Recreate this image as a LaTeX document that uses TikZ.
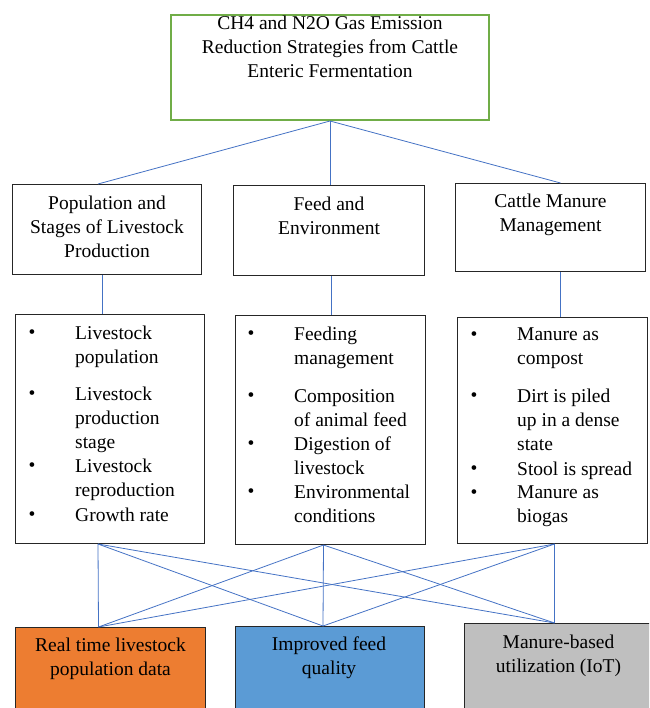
\documentclass[tikz,border=0pt]{standalone}
\usepackage{fontspec}
\setmainfont{Liberation Serif}
\usepackage{xcolor}
\usetikzlibrary{calc}
\definecolor{topgreen}{HTML}{70AD47}
\definecolor{linkblue}{HTML}{4472C4}
\definecolor{orangefill}{HTML}{ED7D31}
\definecolor{bluefill}{HTML}{5B9BD5}
\definecolor{grayfill}{HTML}{BFBFBF}
\newcommand{\boxfont}{\fontsize{19.5}{24}\selectfont}
\tikzset{box/.style={draw=black!85, line width=1pt, inner sep=0pt, anchor=north west},
	headtext/.style={anchor=north, yshift=12pt, align=center, inner sep=0pt, font=\boxfont},
	itemtext/.style={anchor=north west, yshift=12pt, align=left, inner sep=0pt, font=\boxfont},
	dot/.style={anchor=base, inner sep=0pt, font=\boxfont},
	link/.style={draw=linkblue, line width=0.8pt}}
% bullet + text, #2 = x of the bullet, #3 = baseline of the first line
\newcommand{\listitem}[4]{\node[dot] (#1-dot) at (#2,#3) {\textbullet};
	\node[itemtext] (#1) at (#2+43,#3) {#4}}

\begin{document}
\begin{tikzpicture}[x=1pt, y=-1pt]
	\clip (0,0) rectangle (649,708);
	
	\node (goal) [box, draw=topgreen, line width=2pt, minimum width=318, minimum height=105] at (170,14) {};
	\node (goal-t) [headtext] at ($(goal.north)+(0,14)$) {CH4 and N2O Gas Emission\\Reduction Strategies from Cattle\\Enteric Fermentation};
	
	\node (pop) [box, minimum width=189, minimum height=90] at (12,184) {};
	\node (feed) [box, minimum width=191, minimum height=90] at (233,185) {};
	\node (manure) [box, minimum width=190, minimum height=88] at (455,183) {};
	\node (pop-t) [headtext] at ($(pop.north)+(0,24)$) {Population and\\Stages of Livestock\\Production};
	\node (feed-t) [headtext] at ($(feed.north)+(0,24)$) {Feed and\\Environment};
	\node (manure-t) [headtext] at ($(manure.north)+(0,23)$) {Cattle Manure\\Management};
	
	\node (poplist) [box, minimum width=189, minimum height=229] at (15,314) {};
	\node (feedlist) [box, minimum width=190, minimum height=229] at (235,315) {};
	\node (manurelist) [box, minimum width=190, minimum height=226] at (457,317) {};
	
	\listitem{pop1}{32}{338}{Livestock\\population};
	\listitem{pop2}{32}{399}{Livestock\\production\\stage};
	\listitem{pop3}{32}{471}{Livestock\\reproduction};
	\listitem{pop4}{32}{520}{Growth rate};
	\listitem{feed1}{251}{339}{Feeding\\management};
	\listitem{feed2}{251}{401}{Composition\\of animal feed};
	\listitem{feed3}{251}{449}{Digestion of\\livestock};
	\listitem{feed4}{251}{497}{Environmental\\conditions};
	\listitem{man1}{474}{340}{Manure as\\compost};
	\listitem{man2}{474}{401}{Dirt is piled\\up in a dense\\state};
	\listitem{man3}{474}{474}{Stool is spread};
	\listitem{man4}{474}{498}{Manure as\\biogas};
	
	\node (data) [box, fill=orangefill, minimum width=190, minimum height=110] at (15,627) {};
	\node (quality) [box, fill=bluefill, minimum width=189, minimum height=110] at (235,626) {};
	\node (iot) [box, fill=grayfill, minimum width=200, minimum height=110] at (464,623) {};
	\node (data-t) [headtext] at ($(data.north)+(0,23)$) {Real time livestock\\population data};
	\node (quality-t) [headtext] at ($(quality.north)+(-1,23)$) {Improved feed\\quality};
	\node (iot-t) [headtext] at ($(iot.north)+(-6,24)$) {Manure-based\\utilization (IoT)};
	
	% connection points
	\coordinate (pop-in) at ($(pop.north)+(-9,0)$);
	\coordinate (pop-out) at ($(pop.south)+(-5,0)$);
	\coordinate (feed-out) at ($(feed.south)+(2,0)$);
	\coordinate (manure-in) at ($(manure.north)+(10,0)$);
	\coordinate (manure-out) at ($(manure.south)+(10,0)$);
	\coordinate (poplist-out) at ($(poplist.south)+(-12,0)$);
	\coordinate (feedlist-out) at ($(feedlist.south)+(-7,0)$);
	\coordinate (manurelist-out) at ($(manurelist.south)+(2,0)$);
	\coordinate (data-in) at ($(data.north)+(-12,0)$);
	\coordinate (quality-in) at ($(quality.north)+(-7,0)$);
	\coordinate (iot-in) at ($(iot.north)+(-10,0)$);
	
	\draw [link] (goal.south) -- (pop-in);
	\draw [link] (goal.south) -- (goal.south |- feed.north);
	\draw [link] (goal.south) -- (manure-in);
	
	\draw [link] (pop-out) -- (pop-out |- poplist.north);
	\draw [link] (feed-out) -- (feed-out |- feedlist.north);
	\draw [link] (manure-out) -- (manure-out |- manurelist.north);
	
	\foreach \a in {poplist-out, feedlist-out, manurelist-out}
		\foreach \b in {data-in, quality-in, iot-in}
			\draw [link] (\a) -- (\b);
\end{tikzpicture}
\end{document}
